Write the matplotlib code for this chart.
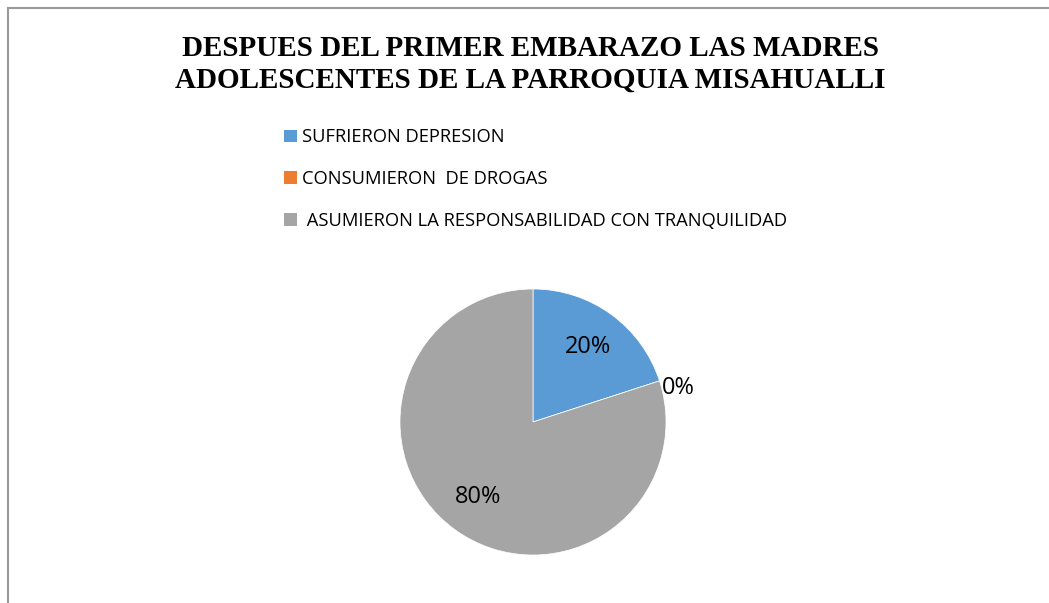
import matplotlib
matplotlib.use('Agg')
import matplotlib.pyplot as plt
from matplotlib.patches import Patch
from matplotlib.lines import Line2D
import numpy as np

# Data
categories = ['SUFRIERON DEPRESION', 'CONSUMIERON  DE DROGAS',
              ' ASUMIERON LA RESPONSABILIDAD CON TRANQUILIDAD']
values = [20, 0, 80]
colors = ['#5B9BD5', '#ED7D31', '#A5A5A5']
title = 'DESPUES DEL PRIMER EMBARAZO LAS MADRES\nADOLESCENTES DE LA PARROQUIA MISAHUALLI'

W, H = 1049, 603
fig = plt.figure(figsize=(W / 100, H / 100), dpi=100)

# chart border (top and left visible)
fig.add_artist(Line2D([8 / W, 8 / W], [0, 1 - 8 / H], transform=fig.transFigure,
                      color='#9a9a9a', lw=1.5))
fig.add_artist(Line2D([8 / W, 1], [1 - 8 / H, 1 - 8 / H], transform=fig.transFigure,
                      color='#9a9a9a', lw=1.5))

# pie placed by pixel centre/radius
cx, cy, r = 533, 422, 133
ax = fig.add_axes([(cx - r) / W, (H - cy - r) / H, 2 * r / W, 2 * r / H])
wedges, texts, autotexts = ax.pie(values, colors=colors, startangle=90, counterclock=False,
                                  autopct='%1.0f%%', pctdistance=0.7, radius=1,
                                  wedgeprops=dict(edgecolor='white', linewidth=0.5),
                                  textprops=dict(fontsize=17, family='Open Sans', color='#000000'))
ax.set_xlim(-1, 1)
ax.set_ylim(-1, 1)
ax.set_aspect('equal')

# zero-valued slice label sits outside the pie
for w, t, v in zip(wedges, autotexts, values):
    if v == 0:
        ang = np.deg2rad((w.theta1 + w.theta2) / 2 - 3)
        t.set_position((1.0 * np.cos(ang), 1.0 * np.sin(ang)))
        t.set_ha('left')

fig.text(530 / W, 1 - 64 / H, title, ha='center', va='center', fontsize=21,
         fontweight='bold', family='Liberation Serif', linespacing=1.22)

handles = [Patch(facecolor=c, edgecolor='none') for c in colors]
fig.legend(handles, categories, loc='upper left', bbox_to_anchor=(277 / W, 1 - 121 / H),
           frameon=False, prop=dict(family='Open Sans', size=13.2),
           handlelength=0.68, handleheight=0.68, handletextpad=0.3, labelspacing=1.3,
           borderaxespad=0)

fig.savefig('out.png', dpi=100)
